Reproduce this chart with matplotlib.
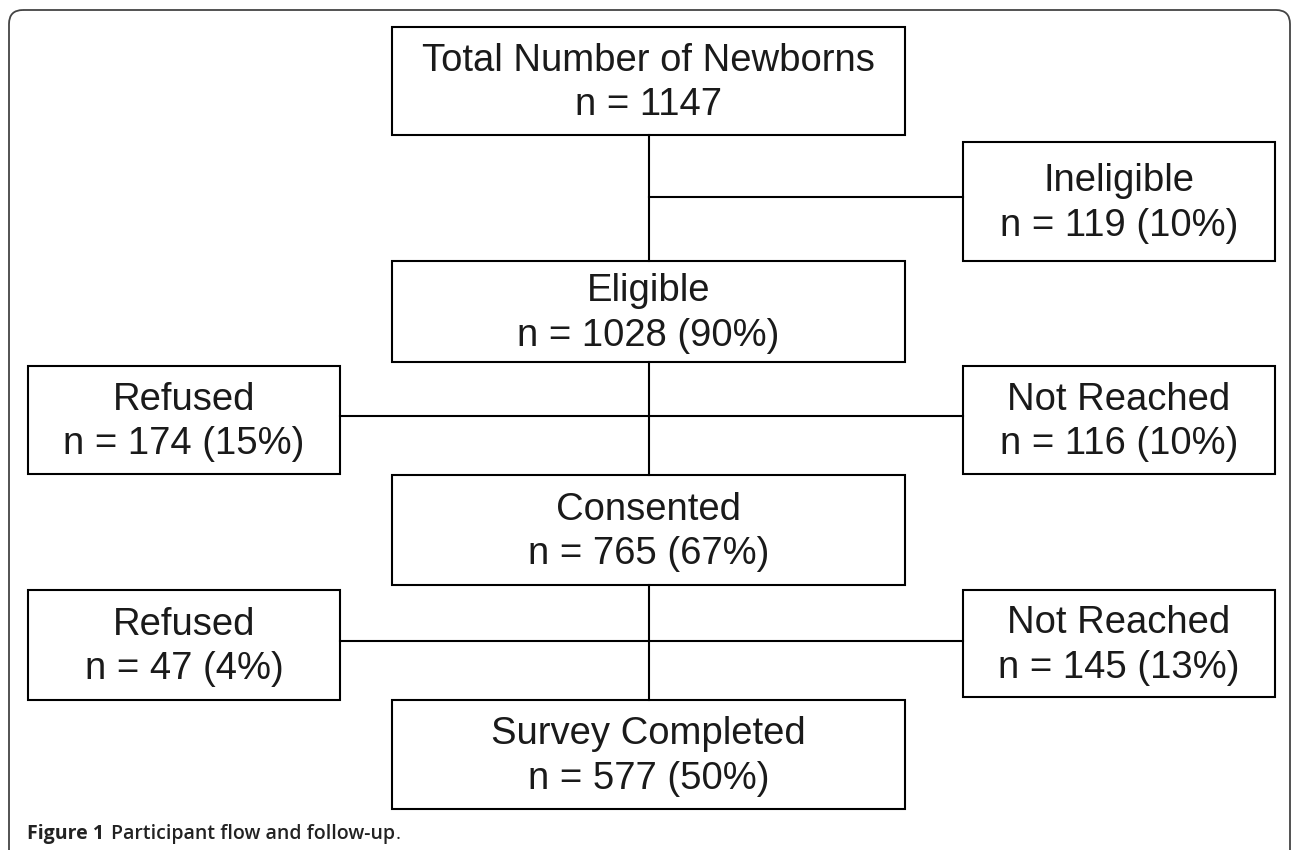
import matplotlib.pyplot as plt
from matplotlib.patches import Rectangle, FancyBboxPatch

# flow stages (main column)
stage_labels = ["Total Number of Newborns", "Eligible", "Consented", "Survey Completed"]
stage_n = [1147, 1028, 765, 577]
stage_pct = [None, 90, 67, 50]

# exclusions on the right
right_labels = ["Ineligible", "Not Reached", "Not Reached"]
right_n = [119, 116, 145]
right_pct = [10, 10, 13]

# exclusions on the left
left_labels = ["Refused", "Refused"]
left_n = [174, 47]
left_pct = [15, 4]

# layout in pixel units (figure is 1292 x 850)
main_x = (392, 905)
main_y = [(27, 135), (261, 362), (475, 585), (700, 809)]
left_x = (28, 340)
left_y = [(366, 474), (590, 700)]
right_x = (963, 1275)
right_y = [(142, 261), (366, 474), (590, 697)]
branch_y = [197, 416, 641]

FONT = "Liberation Sans"
FS = 27.5
LW = 1.5


def fmt(n, pct):
    if pct is None:
        return "n = {}".format(n)
    return "n = {} ({}%)".format(n, pct)


def box(ax, xr, yr, title, sub):
    ax.add_patch(Rectangle((xr[0], yr[0]), xr[1] - xr[0], yr[1] - yr[0],
                           fill=False, edgecolor="black", lw=LW, zorder=3))
    ax.text((xr[0] + xr[1]) / 2, (yr[0] + yr[1]) / 2 + 2, title + "\n" + sub,
            ha="center", va="center", fontsize=FS, family=FONT,
            linespacing=1.32, color="#1a1a1a", zorder=4)


fig = plt.figure(figsize=(12.92, 8.5), dpi=100)
ax = fig.add_axes([0, 0, 1, 1])
ax.set_xlim(0, 1292)
ax.set_ylim(850, 0)
ax.axis("off")

# outer frame, rounded on top, open at the bottom
ax.add_patch(FancyBboxPatch((9, 10), 1281, 900, boxstyle="round,pad=0,rounding_size=14",
                            fill=False, edgecolor="#444444", lw=1.3, zorder=1,
                            clip_on=False))

cx = (main_x[0] + main_x[1]) / 2
for i in range(len(stage_labels)):
    box(ax, main_x, main_y[i], stage_labels[i], fmt(stage_n[i], stage_pct[i]))
for i in range(len(stage_labels) - 1):
    ax.plot([cx, cx], [main_y[i][1], main_y[i + 1][0]], color="black", lw=LW, zorder=2)

for i in range(len(right_labels)):
    box(ax, right_x, right_y[i], right_labels[i], fmt(right_n[i], right_pct[i]))
for i in range(len(left_labels)):
    box(ax, left_x, left_y[i], left_labels[i], fmt(left_n[i], left_pct[i]))

# branch lines
ax.plot([cx, right_x[0]], [branch_y[0], branch_y[0]], color="black", lw=LW, zorder=2)
for y in branch_y[1:]:
    ax.plot([left_x[1], right_x[0]], [y, y], color="black", lw=LW, zorder=2)

# caption
cap_font = "Open Sans"
t1 = ax.text(27, 839, "Figure 1", fontsize=14, family=cap_font, weight="bold",
             va="baseline", color="#222222")
fig.canvas.draw()
r = fig.canvas.get_renderer()
bb = t1.get_window_extent(r).transformed(ax.transData.inverted())
t2 = ax.text(bb.x1 + 7, 839, "Participant flow and follow-up", fontsize=14,
             family=cap_font, weight="semibold", va="baseline", color="#222222")
bb2 = t2.get_window_extent(r).transformed(ax.transData.inverted())
ax.text(bb2.x1 + 1, 839, ".", fontsize=14, family=cap_font, va="baseline",
        color="#222222")

fig.savefig("out.png", dpi=100)
